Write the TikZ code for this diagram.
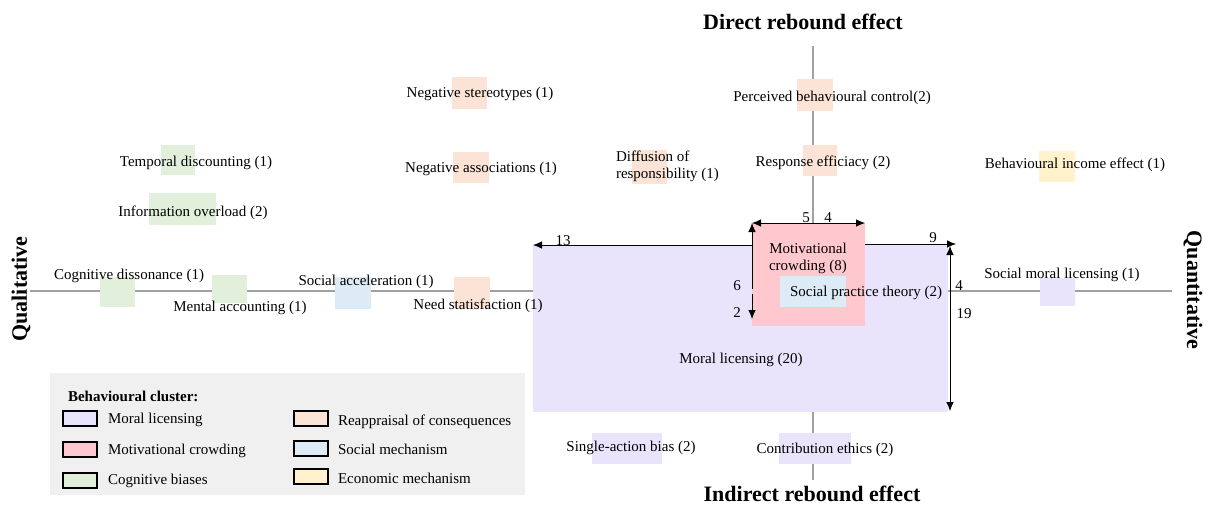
\documentclass[tikz,border=0pt]{standalone}
\usepackage{fontspec}
\setmainfont{Liberation Serif}
\usetikzlibrary{arrows.meta}
\definecolor{cML}{HTML}{E9E3FB}
\definecolor{cMC}{HTML}{FFC7CE}
\definecolor{cCB}{HTML}{E2EFDA}
\definecolor{cRC}{HTML}{FBE3D6}
\definecolor{cSM}{HTML}{DDEBF7}
\definecolor{cEM}{HTML}{FFF2CC}
\definecolor{cLeg}{HTML}{F0F0F0}
\definecolor{axisgray}{HTML}{A0A0A0}
\begin{document}
\begin{tikzpicture}[x=1pt,y=-1pt,
  every node/.style={inner sep=0pt, outer sep=0pt, font=\fontsize{15}{17}\selectfont},
  title/.style={font=\fontsize{22}{24}\selectfont\bfseries},
  patch/.style={fill=#1, draw=none, anchor=north west},
  swatch/.style={fill=#1, draw=black, line width=1.2pt, anchor=north west, minimum width=34pt, minimum height=15pt},
  axis/.style={draw=axisgray, line width=1.4pt},
  arr/.style={-{Latex[length=9pt,width=7.5pt]}, line width=0.8pt},
  txt/.style={yshift=-1.5pt},
  lbl/.style={anchor=west, yshift=-1pt}
]
\useasboundingbox (0,0) rectangle (1210,506);

% titles
\node[title] (dir) at (803,22) {Direct rebound effect};
\node[title] (ind) at (812,494) {Indirect rebound effect};
\node[title, rotate=90] (qual) at (21,289) {Qualitative};
\node[title, rotate=-90] (quan) at (1193,290) {Quantitative};

% axes
\coordinate (axW) at (30,291);
\coordinate (axE) at (1172,291);
\coordinate (axN) at (813,46);
\coordinate (axS) at (813,480);
\draw[axis] (axW) -- (axE);
\draw[axis] (axN) -- (axS);

% big boxes
\node[patch=cML, minimum width=415pt, minimum height=167pt] (ml) at (533,245) {};
\node[patch=cMC, minimum width=113pt, minimum height=103pt] (mc) at (752,223) {};
\node[patch=cSM, minimum width=66pt, minimum height=31pt] (spt) at (780,276) {};

% small patches
\node[patch=cRC, minimum width=35pt, minimum height=32pt] (pNS) at (452,77) {};
\node[patch=cRC, minimum width=36pt, minimum height=31pt] (pNA) at (453,152) {};
\node[patch=cRC, minimum width=35pt, minimum height=34pt] (pDR) at (632,150) {};
\node[patch=cRC, minimum width=36pt, minimum height=32pt] (pPB) at (797,79) {};
\node[patch=cRC, minimum width=34pt, minimum height=31pt] (pRE) at (803,145) {};
\node[patch=cEM, minimum width=36pt, minimum height=31pt] (pBI) at (1039,151) {};
\node[patch=cCB, minimum width=34pt, minimum height=30pt] (pTD) at (161,145) {};
\node[patch=cCB, minimum width=67pt, minimum height=32pt] (pIO) at (149,193) {};
\node[patch=cCB, minimum width=35pt, minimum height=30pt] (pCD) at (100,277) {};
\node[patch=cCB, minimum width=35pt, minimum height=28pt] (pMA) at (212,275) {};
\node[patch=cSM, minimum width=36pt, minimum height=32pt] (pSA) at (335,277) {};
\node[patch=cRC, minimum width=36pt, minimum height=31pt] (pNSat) at (454,277) {};
\node[patch=cML, minimum width=35pt, minimum height=28pt] (pSML) at (1040,278) {};
\node[patch=cML, minimum width=70pt, minimum height=31pt] (pSAB) at (592,433) {};
\node[patch=cML, minimum width=72pt, minimum height=31pt] (pCE) at (779,433) {};

% texts
\node[txt] (tNS) at (480,92) {Negative stereotypes (1)};
\node[txt] (tNA) at (481,167) {Negative associations (1)};
\node[txt, anchor=west, align=left] (tDR) at (616,165) {Diffusion of\\responsibility (1)};
\node[txt] (tPB) at (832,96) {Perceived behavioural control(2)};
\node[txt] (tRE) at (823,161) {Response efficiacy (2)};
\node[txt] (tBI) at (1075,163) {Behavioural income effect (1)};
\node[txt] (tTD) at (196,161) {Temporal discounting (1)};
\node[txt] (tIO) at (193,211) {Information overload (2)};
\node[txt] (tCD) at (129,274) {Cognitive dissonance (1)};
\node[txt] (tMA) at (240,306) {Mental accounting (1)};
\node[txt] (tSA) at (366,280) {Social acceleration (1)};
\node[txt] (tNSat) at (478,304) {Need statisfaction (1)};
\node[txt] (tSML) at (1062,273) {Social moral licensing (1)};
\node[txt] (tSAB) at (631,446) {Single-action bias (2)};
\node[txt] (tCE) at (825,448) {Contribution ethics (2)};
\node[txt, align=center] (tMC) at (808,257) {Motivational\\crowding (8)};
\node[txt] (tSPT) at (866,291) {Social practice theory (2)};
\node[txt] (tML) at (741,358) {Moral licensing (20)};

% arrows
\coordinate (topC) at (813,223);
\coordinate (lvC1) at (752,289);
\coordinate (lvC2) at (752,294);
\coordinate (lvE) at (752,319);
\coordinate (h13) at (752,245);
\coordinate (h9s) at (865,244);
\coordinate (h9e) at (956,244);
\coordinate (rvC) at (950,291);
\coordinate (rvN) at (950,246);
\coordinate (rvS) at (950,411);
\draw[arr] (topC) -- (mc.north west);
\draw[arr] (topC) -- (mc.north east);
\draw[arr] (lvC1) -- (mc.north west);
\draw[arr] (lvC2) -- (lvE);
\draw[arr] (h13) -- (ml.north west);
\draw[arr] (h9s) -- (h9e);
\draw[arr] (rvC) -- (rvN);
\draw[arr] (rvC) -- (rvS);
\node[txt] (n5) at (806,216) {5};
\node[txt] (n4a) at (828,216) {4};
\node[txt] (n6) at (737,284) {6};
\node[txt] (n2) at (737,311) {2};
\node[txt] (n13) at (563,239) {13};
\node[txt] (n9) at (933,236) {9};
\node[txt] (n4b) at (959,284) {4};
\node[txt] (n19) at (964,312) {19};

% legend
\node[patch=cLeg, minimum width=475pt, minimum height=122pt] (leg) at (50,373) {};
\node[lbl, font=\fontsize{15}{17}\selectfont\bfseries] (legT) at (68,395) {Behavioural cluster:};
\node[swatch=cML] (s1) at (63,411) {};
\node[swatch=cMC] (s2) at (63,442) {};
\node[swatch=cCB] (s3) at (63,473) {};
\node[swatch=cRC] (s4) at (294,411) {};
\node[swatch=cSM] (s5) at (294,441) {};
\node[swatch=cEM] (s6) at (294,469) {};
\node[lbl] (l1) at (108,419) {Moral licensing};
\node[lbl] (l2) at (108,450) {Motivational crowding};
\node[lbl] (l3) at (108,480) {Cognitive biases};
\node[lbl] (l4) at (338,421) {Reappraisal of consequences};
\node[lbl] (l5) at (338,448) {Social mechanism};
\node[lbl] (l6) at (338,477) {Economic mechanism};
\end{tikzpicture}
\end{document}
